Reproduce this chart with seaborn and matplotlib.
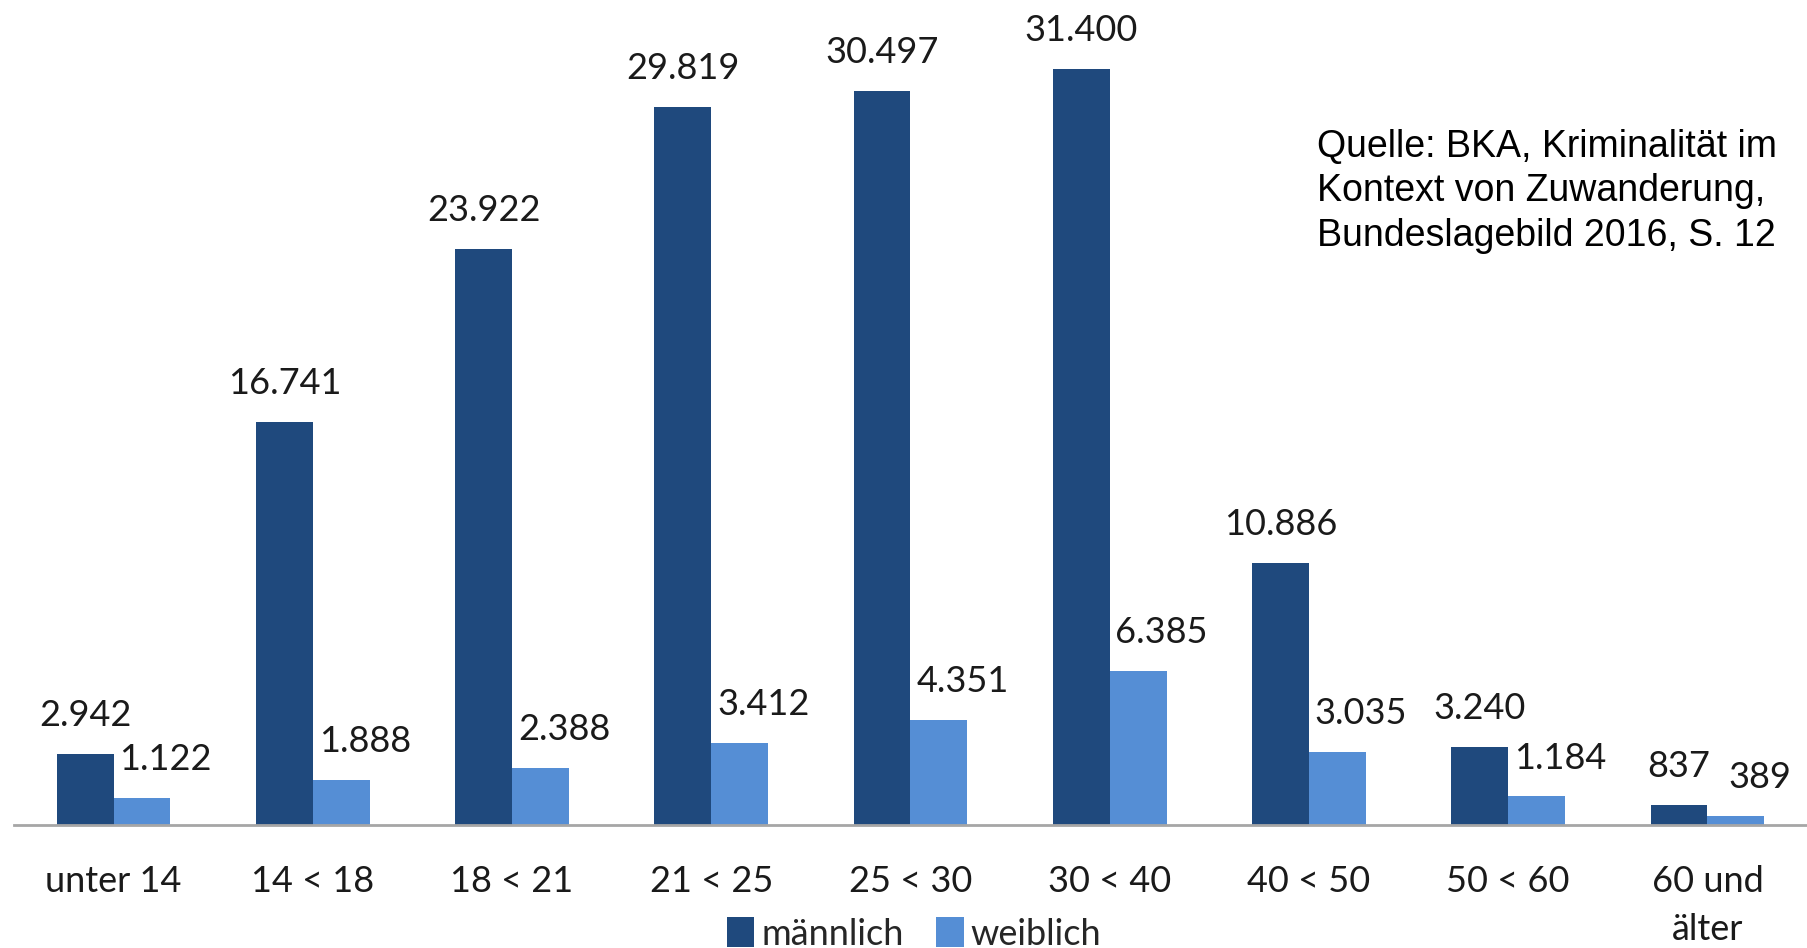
import numpy as np
import pandas as pd
import matplotlib
matplotlib.use("Agg")
import matplotlib.pyplot as plt
import seaborn as sns
from matplotlib.patches import Patch

categories = ["unter 14", "14 < 18", "18 < 21", "21 < 25", "25 < 30",
              "30 < 40", "40 < 50", "50 < 60", "60 und\nälter"]
maennlich = [2942, 16741, 23922, 29819, 30497, 31400, 10886, 3240, 837]
weiblich = [1122, 1888, 2388, 3412, 4351, 6385, 3035, 1184, 389]
series_names = ["männlich", "weiblich"]
colors = ["#1F497D", "#558ED5"]
source_text = "Quelle: BKA, Kriminalität im\nKontext von Zuwanderung,\nBundeslagebild 2016, S. 12"

sns.set_theme(style="white")
plt.rcParams["font.family"] = ["Lato", "DejaVu Sans"]

df = pd.DataFrame({
    "Alter": categories * 2,
    "Anzahl": maennlich + weiblich,
    "Geschlecht": [series_names[0]] * len(categories) + [series_names[1]] * len(categories),
})

fig = plt.figure(figsize=(18.07, 9.48), dpi=100)
ax = fig.add_axes([14 / 1807, 1 - 825 / 948, 1 - 14 / 1807, 825 / 948])

sns.barplot(data=df, x="Alter", y="Anzahl", hue="Geschlecht", order=categories,
            hue_order=series_names, palette=colors, width=0.57, saturation=1,
            linewidth=0, ax=ax, legend=False)

ax.set_xlim(-0.5, len(categories) - 0.5)
ax.set_ylim(0, 34265)
ax.set_xlabel("")
ax.set_ylabel("")
ax.set_yticks([])
for s in ["top", "right", "left"]:
    ax.spines[s].set_visible(False)
ax.spines["bottom"].set_color("#A6A6A6")
ax.spines["bottom"].set_linewidth(2)

ax.set_xticks(range(len(categories)))
ax.set_xticklabels(categories, fontsize=26, color="#1a1a1a")
for lbl in ax.get_xticklabels():
    lbl.set_linespacing(1.55)
ax.tick_params(axis="x", which="major", length=0, pad=29)
ax.set_xticks(np.arange(-0.5, len(categories) - 0.5, 1.0), minor=True)
ax.tick_params(axis="x", which="minor", length=10, width=1.5, color="#A6A6A6", direction="out")

# value labels
for ci, cont in enumerate(ax.containers):
    dx = 0 if ci == 0 else 17
    for rect, v in zip(cont, [maennlich, weiblich][ci]):
        x = rect.get_x() + rect.get_width() / 2
        h = rect.get_height()
        ax.annotate(f"{v:,}".replace(",", "."), (x, h), xytext=(dx, 20),
                    textcoords="offset points", ha="center", va="baseline",
                    fontsize=26, color="#1a1a1a", annotation_clip=False)

fig.text(1317 / 1807, 1 - 129 / 948, source_text, fontsize=27,
         family=["Liberation Sans", "DejaVu Sans"], ha="left", va="top",
         linespacing=1.3, color="black")

handles = [Patch(facecolor=c, edgecolor="none") for c in colors]
fig.legend(handles, series_names, loc="center", bbox_to_anchor=(0.506, 0.015),
           ncol=2, frameon=False, fontsize=26, handlelength=0.75, handleheight=0.9,
           handletextpad=0.2, columnspacing=0.9, borderpad=0)

fig.savefig("out.png", dpi=100)
